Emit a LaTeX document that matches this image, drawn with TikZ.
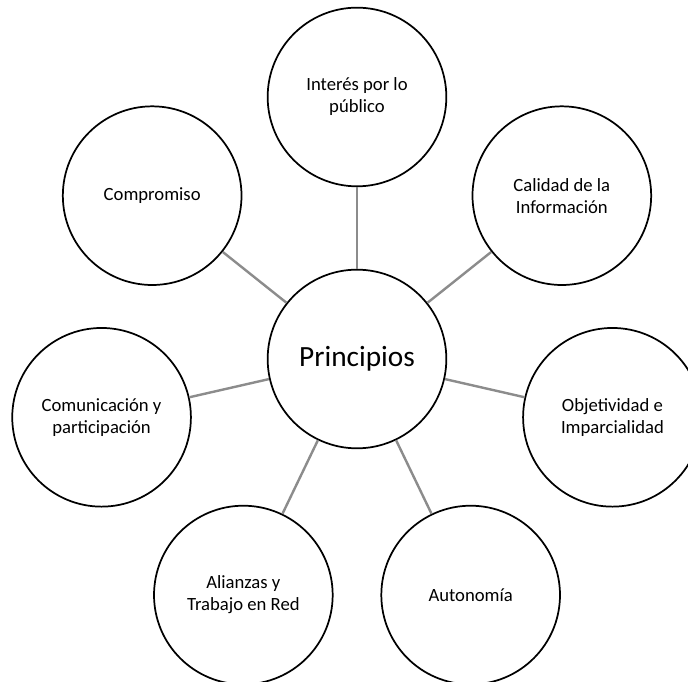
\documentclass[tikz,border=0pt]{standalone}
\usepackage{fontspec}
\setmainfont{Carlito}
\usetikzlibrary{positioning,calc}

\begin{document}
\begin{tikzpicture}[x=0.75pt, y=0.75pt,
        principle/.style={circle, draw=black, fill=white, line width=1.3pt, minimum size=134pt, inner sep=0pt, align=center, font=\fontsize{14}{16.5}\selectfont},
        hub/.style={principle, font=\fontsize{22}{26}\selectfont},
        spoke/.style={line width=1.8pt, draw=black!45}]
        \definecolor{pagewhite}{RGB}{255,255,255}

        % Page frame, same size as the reference
        \useasboundingbox[fill=pagewhite] (0,0) rectangle (688,681);

        % Hub in the middle, seven principles round it at 262 units
        \coordinate (prin-pos) at (357,322);
        \coordinate (int-pos) at ($(prin-pos)+(90:262)$);
        \coordinate (cal-pos) at ($(prin-pos)+(38.57:262)$);
        \coordinate (obj-pos) at ($(prin-pos)+(-12.86:262)$);
        \coordinate (aut-pos) at ($(prin-pos)+(-64.29:262)$);
        \coordinate (ali-pos) at ($(prin-pos)+(-115.71:262)$);
        \coordinate (com-pos) at ($(prin-pos)+(192.86:262)$);
        \coordinate (comp-pos) at ($(prin-pos)+(141.43:262)$);

        % Outer circles
        \node[principle] (int) at (int-pos) {Interés por lo\\público};
        \node[principle] (cal) at (cal-pos) {Calidad de la\\Información};
        \node[principle] (obj) at (obj-pos) {Objetividad e\\Imparcialidad};
        \node[principle] (aut) at (aut-pos) {Autonomía};
        \node[principle] (ali) at (ali-pos) {Alianzas y\\Trabajo en Red};
        \node[principle] (com) at (com-pos) {Comunicación y\\participación};
        \node[principle] (comp) at (comp-pos) {Compromiso};

        % Centre circle
        \node[hub] (prin) at (prin-pos) {Principios};

        % Spokes, border to border
        \draw[spoke] (prin) -- (int);
        \draw[spoke] (prin) -- (cal);
        \draw[spoke] (prin) -- (obj);
        \draw[spoke] (prin) -- (aut);
        \draw[spoke] (prin) -- (ali);
        \draw[spoke] (prin) -- (com);
        \draw[spoke] (prin) -- (comp);
    \end{tikzpicture}
\end{document}
